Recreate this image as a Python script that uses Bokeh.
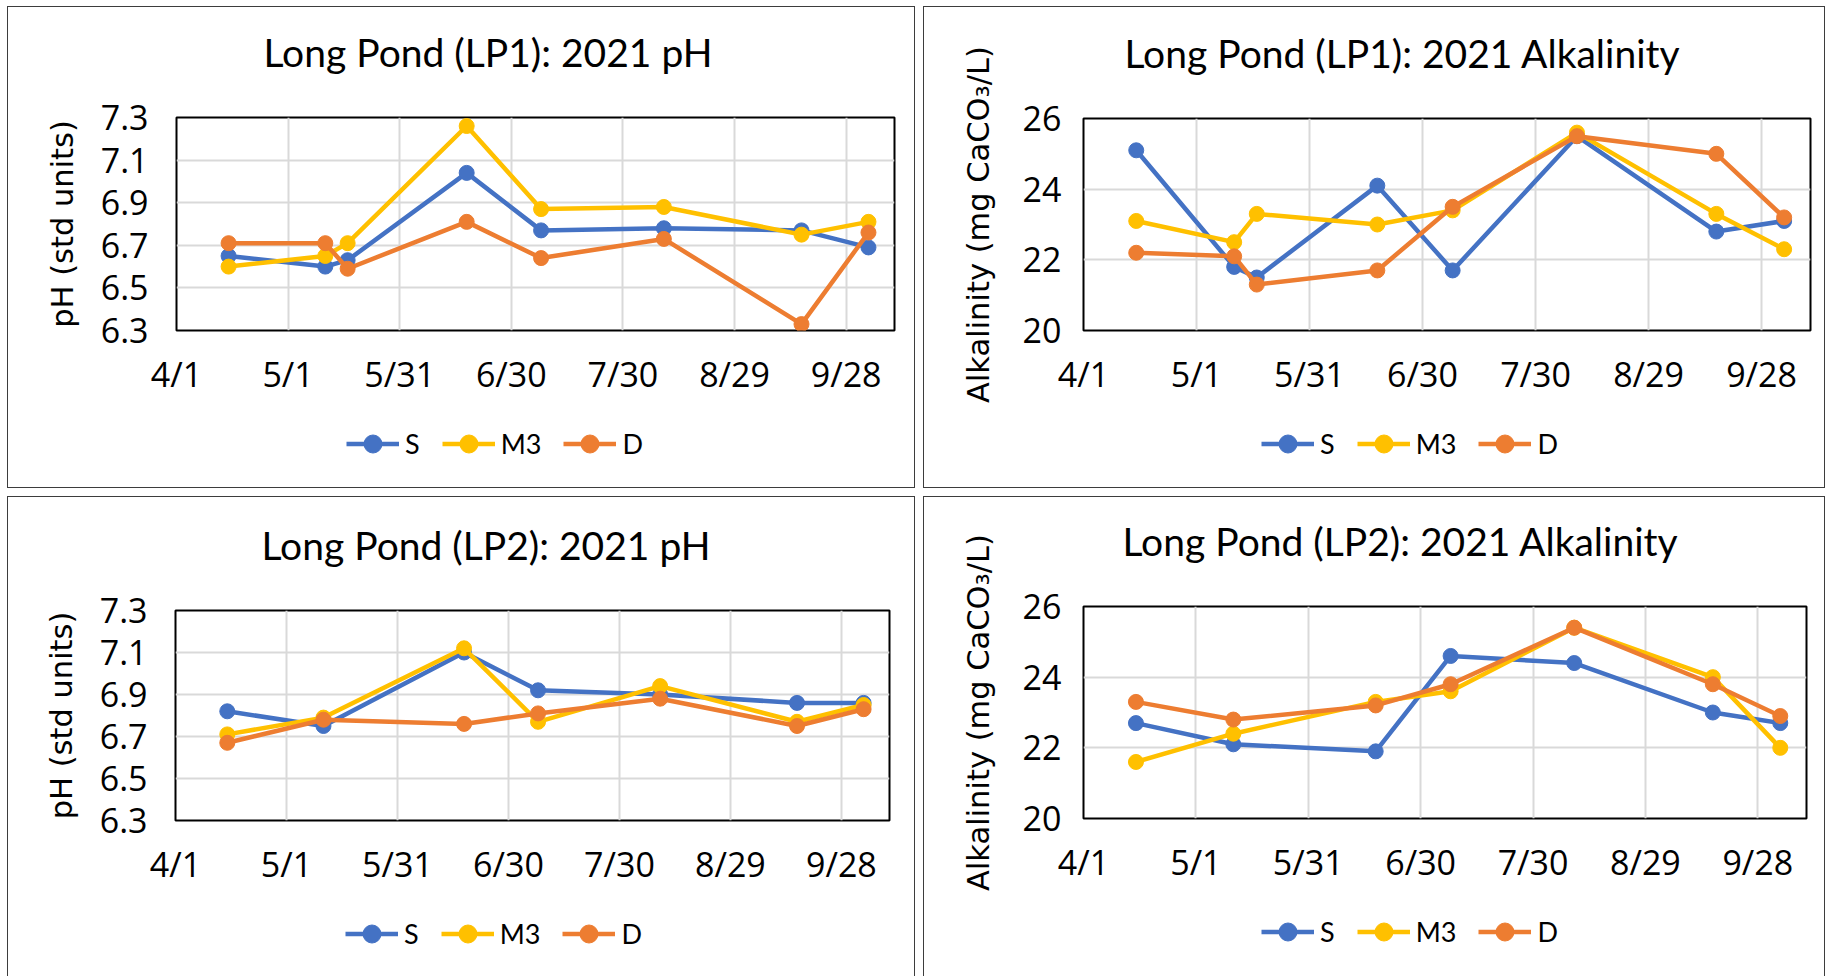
import pandas as pd
from bokeh.plotting import figure
from bokeh.layouts import column, row
from bokeh.models import Range1d, FixedTicker, Legend, LegendItem, Title
from bokeh.embed import file_html
from bokeh.resources import INLINE

# ---- data -------------------------------------------------------------
SERIES = ["S", "M3", "D"]
COLORS = ["#4472C4", "#FFC000", "#ED7D31"]

X_TICK_LABELS = ["4/1", "5/1", "5/31", "6/30", "7/30", "8/29", "9/28"]
X_START = "2021-04-01"
X_END = "2021-10-11"

LP1_DATES = ["2021-04-15", "2021-05-11", "2021-05-17", "2021-06-18",
             "2021-07-08", "2021-08-10", "2021-09-16", "2021-10-04"]
LP2_DATES = ["2021-04-15", "2021-05-11", "2021-06-18",
             "2021-07-08", "2021-08-10", "2021-09-16", "2021-10-04"]

LP1_PH_S = [6.65, 6.60, 6.63, 7.04, 6.77, 6.78, 6.77, 6.69]
LP1_PH_M3 = [6.60, 6.65, 6.71, 7.26, 6.87, 6.88, 6.75, 6.81]
LP1_PH_D = [6.71, 6.71, 6.59, 6.81, 6.64, 6.73, 6.33, 6.76]

LP1_ALK_S = [25.1, 21.8, 21.5, 24.1, 21.7, 25.5, 22.8, 23.1]
LP1_ALK_M3 = [23.1, 22.5, 23.3, 23.0, 23.4, 25.6, 23.3, 22.3]
LP1_ALK_D = [22.2, 22.1, 21.3, 21.7, 23.5, 25.5, 25.0, 23.2]

LP2_PH_S = [6.82, 6.75, 7.10, 6.92, 6.90, 6.86, 6.86]
LP2_PH_M3 = [6.71, 6.79, 7.12, 6.77, 6.94, 6.77, 6.85]
LP2_PH_D = [6.67, 6.78, 6.76, 6.81, 6.88, 6.75, 6.83]

LP2_ALK_S = [22.7, 22.1, 21.9, 24.6, 24.4, 23.0, 22.7]
LP2_ALK_M3 = [21.6, 22.4, 23.3, 23.6, 25.4, 24.0, 22.0]
LP2_ALK_D = [23.3, 22.8, 23.2, 23.8, 25.4, 23.8, 22.9]

PH_TICKS = [6.3, 6.5, 6.7, 6.9, 7.1, 7.3]
PH_TICK_LABELS = ["6.3", "6.5", "6.7", "6.9", "7.1", "7.3"]
ALK_TICKS = [20, 22, 24, 26]
ALK_TICK_LABELS = ["20", "22", "24", "26"]

PH_LABEL = "pH (std units)"
ALK_LABEL = "Alkalinity (mg CaCO\u2083/L)"


def ms(day):
    return int(pd.Timestamp(day).value // 10**6)


X_TICKS = [ms("2021-" + t.replace("/", "-")) for t in X_TICK_LABELS]

LINE = "1.5px solid #3d3d3d"


def heading(text, offset):
    opts = dict(text=text, align="left", offset=offset,
                vertical_align="bottom", standoff=10,
                text_font="Lato", text_font_size="39px",
                text_font_style="normal", text_color="black")
    try:
        return Title(padding=dict(left=0, right=0, top=0, bottom=38), **opts)
    except Exception:
        return Title(**opts)


def panel(title, ylabel, dates, series_values, yticks, ytick_labels,
          width, margins, title_offset, legend_pos, tick_gap, label_gap,
          last_row=False):
    left, right, top, bottom = margins

    p = figure(width=width, height=410,
               x_axis_type="datetime",
               x_range=Range1d(ms(X_START), ms(X_END)),
               y_range=Range1d(yticks[0], yticks[-1]),
               min_border_left=left, min_border_right=right,
               min_border_top=top, min_border_bottom=bottom,
               output_backend="svg", toolbar_location=None,
               background_fill_color="white", border_fill_color="white")
    p.title = heading(title, title_offset)
    p.outline_line_color = "black"
    p.outline_line_width = 2
    p.styles = {"border-top": LINE, "border-left": LINE, "border-right": LINE}

    p.xaxis.ticker = FixedTicker(ticks=X_TICKS)
    p.xaxis.major_label_overrides = dict(zip(X_TICKS, X_TICK_LABELS))
    p.yaxis.ticker = FixedTicker(ticks=yticks)
    p.yaxis.major_label_overrides = dict(zip(yticks, ytick_labels))
    for ax in (p.xaxis, p.yaxis):
        ax.axis_line_color = None
        ax.major_tick_line_color = None
        ax.minor_tick_line_color = None
        ax.major_tick_out = 0
        ax.major_tick_in = 0
        ax.minor_tick_out = 0
        ax.minor_tick_in = 0
        ax.major_label_text_font = "Open Sans"
        ax.major_label_text_font_size = "34px"
        ax.major_label_text_color = "black"
    p.xaxis.major_label_standoff = 20
    p.yaxis.major_label_standoff = tick_gap
    p.yaxis.axis_label = ylabel
    p.yaxis.axis_label_text_font = "DejaVu Sans"
    p.yaxis.axis_label_text_font_size = "30.5px"
    p.yaxis.axis_label_text_font_style = "normal"
    p.yaxis.axis_label_text_color = "black"
    p.yaxis.axis_label_standoff = label_gap

    p.xgrid.ticker = FixedTicker(ticks=X_TICKS)
    p.ygrid.ticker = FixedTicker(ticks=yticks)
    for g in (p.xgrid, p.ygrid):
        g.grid_line_color = "#d9d9d9"
        g.grid_line_width = 2

    x = [pd.Timestamp(d) for d in dates]
    for color, vals in zip(COLORS, series_values):
        p.line(x, vals, line_color=color, line_width=4.5)
        p.scatter(x, vals, size=15, marker="circle",
                  fill_color=color, line_color=color)

    # key row under the chart; its renderers only supply the legend swatches
    key_h = 70 if last_row else 72
    key = figure(width=width, height=key_h,
                 x_range=Range1d(0, 1), y_range=Range1d(0, 1),
                 x_axis_location=None, y_axis_location=None,
                 min_border=0, output_backend="svg", toolbar_location=None,
                 background_fill_color="white", border_fill_color="white")
    key.title = None
    key.outline_line_color = None
    key.xgrid.visible = False
    key.ygrid.visible = False
    sides = ["left", "right"] if last_row else ["left", "right", "bottom"]
    key.styles = {f"border-{s}": LINE for s in sides}

    items = []
    for name, color, vals in zip(SERIES, COLORS, series_values):
        ln = key.line(x, vals, line_color=color, line_width=4.5,
                      visible=False)
        mk = key.scatter(x, vals, size=17, marker="circle",
                         fill_color=color, line_color=color, visible=False)
        items.append(LegendItem(label=name, renderers=[ln, mk]))
    key.add_layout(Legend(items=items, orientation="horizontal",
                          location=legend_pos,
                          glyph_width=53, glyph_height=45,
                          label_text_font="Lato", label_text_font_size="27px",
                          label_text_color="black", label_width=0,
                          label_standoff=6, spacing=22, padding=0, margin=0,
                          inactive_fill_alpha=0,
                          border_line_color=None, background_fill_alpha=0))

    return column(p, key, spacing=0)


c1 = panel("Long Pond (LP1):  2021 pH", PH_LABEL, LP1_DATES,
           [LP1_PH_S, LP1_PH_M3, LP1_PH_D], PH_TICKS, PH_TICK_LABELS,
           908, (168, 22, 110, 87), 87, (170, 22), 28, 18)
c2 = panel("Long Pond (LP1):  2021 Alkalinity", ALK_LABEL, LP1_DATES,
           [LP1_ALK_S, LP1_ALK_M3, LP1_ALK_D], ALK_TICKS, ALK_TICK_LABELS,
           902, (159, 16, 111, 87), 41, (178, 22), 22, 24)
c3 = panel("Long Pond (LP2):  2021 pH", PH_LABEL, LP2_DATES,
           [LP2_PH_S, LP2_PH_M3, LP2_PH_D], PH_TICKS, PH_TICK_LABELS,
           908, (167, 27, 113, 87), 86, (170, 20), 28, 18, last_row=True)
c4 = panel("Long Pond (LP2):  2021 Alkalinity", ALK_LABEL, LP2_DATES,
           [LP2_ALK_S, LP2_ALK_M3, LP2_ALK_D], ALK_TICKS, ALK_TICK_LABELS,
           902, (159, 20, 109, 89), 39, (178, 22), 22, 24, last_row=True)

layout = column(row(c1, c2, spacing=8), row(c3, c4, spacing=8),
                spacing=8, margin=(6, 0, 0, 7))

open("out.html", "w").write(file_html(layout, INLINE))
